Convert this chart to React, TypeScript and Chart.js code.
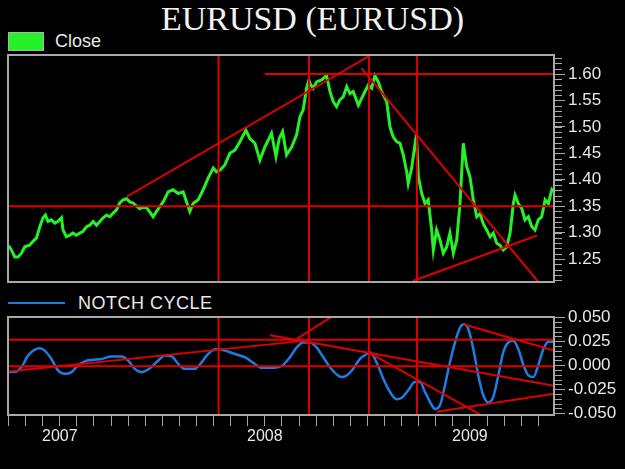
import React, { useEffect, useRef } from 'react';
import { Chart, registerables } from 'chart.js';

Chart.register(...registerables);

// ---------- data (x = months since Jan 2007) ----------
const closeMonths = [
  -2.99, -2.83, -2.63, -2.44, -2.24, -2.05, -1.76, -1.58, -1.36, -1.17, -0.98, -0.84, -0.69, -0.49, -0.29, -0.12,
  0.10, 0.19, 0.39, 0.59, 0.76, 0.98, 1.17, 1.35, 1.56, 1.76, 1.95, 2.15, 2.34, 2.54, 2.73, 2.93,
  3.12, 3.32, 3.51, 3.71, 3.91, 4.10, 4.29, 4.49, 4.68, 4.88, 5.08, 5.46, 5.66, 6.05, 6.34, 6.63,
  6.93, 7.22, 7.42, 7.61, 7.80, 8.10, 8.39, 8.68, 8.98, 9.17, 9.37, 9.66, 9.95, 10.25, 10.54, 10.89,
  11.12, 11.42, 11.71, 12.00, 12.20, 12.39, 12.65, 12.84, 13.04, 13.27, 13.57, 13.86, 14.05, 14.24, 14.44, 14.58,
  14.64, 14.83, 15.03, 15.32, 15.61, 15.81, 16.00, 16.20, 16.39, 16.59, 16.79, 16.98, 17.17, 17.47, 17.66, 17.86,
  18.05, 18.25, 18.44, 18.64, 18.83, 19.13, 19.32, 19.51, 19.71, 19.91, 20.10, 20.30, 20.39, 20.59, 20.78, 20.87,
  20.98, 21.18, 21.37, 21.56, 21.76, 21.86, 22.05, 22.25, 22.44, 22.64, 22.83, 23.03, 23.23, 23.42, 23.61, 23.81,
  24.00, 24.20, 24.40, 24.59, 24.78, 24.98, 25.18, 25.37, 25.57, 25.76, 25.95, 26.15, 26.35, 26.54, 26.64, 26.83,
  27.03, 27.22, 27.42, 27.62, 27.81, 28.00, 28.20, 28.40, 28.59, 28.79, 28.88,
];
const closeValues = [
  1.275, 1.267, 1.254, 1.254, 1.261, 1.273, 1.276, 1.283, 1.290, 1.311, 1.328, 1.333, 1.321, 1.324, 1.318, 1.321,
  1.328, 1.305, 1.292, 1.295, 1.299, 1.295, 1.299, 1.302, 1.311, 1.314, 1.321, 1.314, 1.321, 1.328, 1.333, 1.330,
  1.337, 1.343, 1.356, 1.362, 1.364, 1.358, 1.356, 1.350, 1.345, 1.348, 1.347, 1.330, 1.340, 1.358, 1.377, 1.381,
  1.374, 1.377, 1.358, 1.340, 1.355, 1.362, 1.381, 1.403, 1.422, 1.415, 1.418, 1.428, 1.450, 1.456, 1.472, 1.494,
  1.478, 1.469, 1.437, 1.462, 1.475, 1.488, 1.444, 1.478, 1.491, 1.447, 1.462, 1.485, 1.519, 1.532, 1.573, 1.589,
  1.582, 1.573, 1.585, 1.589, 1.597, 1.567, 1.548, 1.538, 1.551, 1.557, 1.576, 1.563, 1.567, 1.541, 1.554, 1.567,
  1.579, 1.573, 1.597, 1.585, 1.567, 1.548, 1.500, 1.481, 1.472, 1.469, 1.447, 1.415, 1.393, 1.422, 1.466, 1.485,
  1.406, 1.374, 1.355, 1.362, 1.305, 1.267, 1.305, 1.286, 1.261, 1.273, 1.299, 1.261, 1.286, 1.355, 1.469, 1.425,
  1.406, 1.362, 1.330, 1.336, 1.317, 1.305, 1.292, 1.299, 1.280, 1.276, 1.267, 1.273, 1.299, 1.355, 1.371, 1.355,
  1.346, 1.324, 1.330, 1.311, 1.305, 1.324, 1.330, 1.362, 1.355, 1.381, 1.377,
];

const notchMonths = [
  -3.03, -2.63, -2.24, -1.86, -1.46, -1.17, -0.88, -0.49, -0.10, 0.29, 0.69, 1.07, 1.46, 1.86, 2.44, 3.03,
  3.61, 4.00, 4.39, 4.78, 5.17, 5.76, 6.15, 6.54, 6.93, 7.32, 7.90, 8.30, 8.68, 9.17, 9.66, 10.25,
  10.83, 11.42, 11.81, 12.59, 13.07, 13.47, 13.86, 14.24, 14.64, 15.03, 15.42, 15.81, 16.20, 16.49, 16.79, 17.17,
  17.56, 17.96, 18.15, 18.54, 18.93, 19.32, 19.71, 20.01, 20.39, 20.78, 21.08, 21.37, 21.66, 21.96, 22.25, 22.54,
  22.83, 23.13, 23.42, 23.65, 23.91, 24.20, 24.49, 24.78, 25.08, 25.37, 25.66, 25.95, 26.25, 26.54, 26.83, 27.13,
  27.42, 27.71, 28.00, 28.30, 28.59, 28.88,
];
const notchValues = [
  -0.0072, -0.0070, -0.0020, 0.0100, 0.0162, 0.0176, 0.0152, 0.0065, -0.0055, -0.0090, -0.0072, 0.0000, 0.0040, 0.0055, 0.0065, 0.0090,
  0.0090, 0.0048, -0.0038, -0.0072, -0.0045, 0.0048, 0.0100, 0.0093, 0.0013, -0.0038, -0.0038, 0.0030, 0.0117, 0.0168, 0.0152, 0.0117,
  0.0083, 0.0013, -0.0028, -0.0028, 0.0003, 0.0083, 0.0186, 0.0238, 0.0238, 0.0186, 0.0083, -0.0021, -0.0096, -0.0124, -0.0107, -0.0038,
  0.0065, 0.0117, 0.0134, 0.0030, -0.0141, -0.0279, -0.0355, -0.0340, -0.0262, -0.0176, -0.0176, -0.0279, -0.0382, -0.0458, -0.0417, -0.0210,
  0.0030, 0.0238, 0.0393, 0.0427, 0.0375, 0.0168, -0.0107, -0.0313, -0.0390, -0.0330, -0.0107, 0.0134, 0.0238, 0.0255, 0.0168, 0.0000,
  -0.0107, -0.0124, 0.0000, 0.0168, 0.0245, 0.0245,
];

const priceTicks = [1.25, 1.30, 1.35, 1.40, 1.45, 1.50, 1.55, 1.60];
const notchTicks = [-0.05, -0.025, 0, 0.025, 0.05];
const yearLabels = ['2007', '2008', '2009'];
const yearStartMonths = [0, 12, 24];

const X_MIN = -3.03;
const X_MAX = 28.92;
const PRICE_MIN = 1.2065;
const PRICE_MAX = 1.636;
const NOTCH_MIN = -0.052;
const NOTCH_MAX = 0.0503;

// cycle markers (months) - vertical lines in both panels
const cycleMonths = [9.29, 14.58, 18.09, 20.9];
// trend / level lines: [x1, y1, x2, y2]
const priceLines = [
  [X_MIN, 1.35, X_MAX, 1.35],
  [12.0, 1.6, X_MAX, 1.6],
  [3.92, 1.368, 18.21, 1.636],
  [17.66, 1.611, 27.99, 1.207],
  [20.67, 1.2084, 27.93, 1.2945],
];
const notchLines = [
  [X_MIN, 0.0265, X_MAX, 0.0265],
  [X_MIN, -0.001, X_MAX, -0.001],
  [X_MIN, -0.0065, 14.52, 0.0259],
  [12.3, 0.0313, X_MAX, -0.0214],
  [13.64, 0.0248, 16.3, 0.055],
  [18.03, 0.0137, 24.59, -0.0514],
  [22.05, -0.0486, X_MAX, -0.0297],
  [23.61, 0.0427, X_MAX, 0.0152],
];

const RED = 'rgb(222,0,0)';
const GREEN = 'rgb(38,240,38)';
const BLUE = 'rgb(30,125,225)';
const GRAY = '#a8a8a8';
const LABEL = '#e8e8e8';
const FONT = "'Liberation Sans', Arial, sans-serif";

function segment(s: number[]) {
  return {
    type: 'line' as const,
    data: [
      { x: s[0], y: s[1] },
      { x: s[2], y: s[3] },
    ],
    borderColor: RED,
    borderWidth: 2,
    pointRadius: 0,
    tension: 0,
    fill: false,
  };
}

function framePlugin(minorStep: number) {
  return {
    id: 'frameMinor',
    afterDraw(chart: any) {
      const { ctx, chartArea: a } = chart;
      const ys = chart.scales.y;
      ctx.save();
      ctx.strokeStyle = GRAY;
      ctx.lineWidth = 1;
      const lo = Math.ceil(ys.min / minorStep - 1e-6);
      const hi = Math.floor(ys.max / minorStep + 1e-6);
      for (let i = lo; i <= hi; i++) {
        const py = Math.round(ys.getPixelForValue(i * minorStep)) + 0.5;
        ctx.beginPath();
        ctx.moveTo(a.right, py);
        ctx.lineTo(a.right + 8, py);
        ctx.stroke();
      }
      ctx.lineWidth = 2;
      ctx.strokeRect(a.left, a.top, a.right - a.left, a.bottom - a.top);
      ctx.restore();
    },
  };
}

export default function App() {
  const topRef = useRef<HTMLCanvasElement>(null);
  const botRef = useRef<HTMLCanvasElement>(null);

  useEffect(() => {
    document.body.style.margin = '0';
    document.body.style.background = '#000';
    Chart.defaults.font.family = FONT;

    const closePts = closeMonths.map((m, i) => ({ x: m, y: closeValues[i] }));
    const notchPts = notchMonths.map((m, i) => ({ x: m, y: notchValues[i] }));

    const topDatasets: any[] = [
      ...cycleMonths.map((m) => segment([m, PRICE_MIN, m, PRICE_MAX])),
      ...priceLines.map(segment),
      {
        type: 'line',
        data: closePts,
        borderColor: GREEN,
        borderWidth: 3,
        pointRadius: 0,
        tension: 0,
        fill: false,
      },
    ];

    const top = new Chart(topRef.current!, {
      type: 'line',
      data: { datasets: topDatasets },
      options: {
        animation: false,
        responsive: false,
        events: [],
        layout: { padding: { left: 8, top: 55, right: 0, bottom: 187 } },
        plugins: { legend: { display: false }, tooltip: { enabled: false }, title: { display: false } },
        scales: {
          x: { type: 'linear', display: false, min: X_MIN, max: X_MAX },
          y: {
            type: 'linear',
            position: 'right',
            min: PRICE_MIN,
            max: PRICE_MAX,
            afterFit: (s: any) => {
              s.width = 71;
            },
            afterBuildTicks: (s: any) => {
              s.ticks = priceTicks.map((v) => ({ value: v }));
            },
            grid: { drawOnChartArea: false, drawTicks: true, tickLength: 11, color: GRAY, tickColor: GRAY },
            border: { display: false },
            ticks: {
              color: LABEL,
              font: { size: 17, family: FONT },
              padding: 3,
              autoSkip: false,
              callback: (v: any) => Number(v).toFixed(2),
            },
          },
        },
      },
      plugins: [framePlugin(0.01)],
    } as any);

    const botDatasets: any[] = [
      ...cycleMonths.map((m) => segment([m, NOTCH_MIN, m, NOTCH_MAX])),
      ...notchLines.map(segment),
      {
        type: 'line',
        data: notchPts,
        borderColor: BLUE,
        borderWidth: 2.5,
        pointRadius: 0,
        tension: 0.4,
        cubicInterpolationMode: 'monotone',
        fill: false,
      },
    ];

    const bot = new Chart(botRef.current!, {
      type: 'line',
      data: { datasets: botDatasets },
      options: {
        animation: false,
        responsive: false,
        events: [],
        layout: { padding: { left: 8, top: 317, right: 0, bottom: 0 } },
        plugins: { legend: { display: false }, tooltip: { enabled: false }, title: { display: false } },
        scales: {
          x: {
            type: 'linear',
            min: X_MIN,
            max: X_MAX,
            afterFit: (s: any) => {
              s.height = 54;
            },
            afterBuildTicks: (s: any) => {
              const t: any[] = [];
              for (let m = Math.ceil(X_MIN); m <= Math.floor(X_MAX); m++) t.push({ value: m });
              s.ticks = t;
            },
            grid: { drawOnChartArea: false, drawTicks: true, tickLength: 11, color: GRAY, tickColor: GRAY },
            border: { display: false },
            ticks: {
              color: LABEL,
              font: { size: 16, family: FONT },
              padding: 1,
              autoSkip: false,
              maxRotation: 0,
              callback: (v: any) => {
                const k = yearStartMonths.indexOf(Math.round(Number(v)));
                return k >= 0 ? yearLabels[k] : '';
              },
            },
          },
          y: {
            type: 'linear',
            position: 'right',
            min: NOTCH_MIN,
            max: NOTCH_MAX,
            afterFit: (s: any) => {
              s.width = 71;
            },
            afterBuildTicks: (s: any) => {
              s.ticks = notchTicks.map((v) => ({ value: v }));
            },
            grid: { drawOnChartArea: false, drawTicks: true, tickLength: 11, color: GRAY, tickColor: GRAY },
            border: { display: false },
            ticks: {
              color: LABEL,
              font: { size: 17, family: FONT },
              padding: 3,
              autoSkip: false,
              callback: (v: any) => Number(v).toFixed(3),
            },
          },
        },
      },
      plugins: [framePlugin(0.005)],
    } as any);

    return () => {
      top.destroy();
      bot.destroy();
    };
  }, []);

  const abs: React.CSSProperties = { position: 'absolute', left: 0, top: 0 };

  return (
    <div
      style={{
        position: 'fixed',
        left: 0,
        top: 0,
        width: 625,
        height: 469,
        background: '#000',
        overflow: 'hidden',
        fontFamily: FONT,
      }}
    >
      <div
        style={{
          position: 'absolute',
          left: 0,
          top: 2,
          width: 625,
          textAlign: 'center',
          fontFamily: "'Liberation Serif', 'Times New Roman', serif",
          fontSize: 34,
          lineHeight: '34px',
          color: '#f2f2f2',
          whiteSpace: 'nowrap',
        }}
      >
        EURUSD (EURUSD)
      </div>
      <div
        style={{
          position: 'absolute',
          left: 8,
          top: 32,
          width: 34,
          height: 17,
          background: GREEN,
          border: '1px solid #b0b0b0',
        }}
      />
      <div
        style={{
          position: 'absolute',
          left: 55,
          top: 32,
          fontSize: 18,
          lineHeight: '18px',
          color: LABEL,
          whiteSpace: 'nowrap',
        }}
      >
        Close
      </div>
      <div
        style={{
          position: 'absolute',
          left: 8,
          top: 302,
          width: 57,
          height: 2,
          background: BLUE,
        }}
      />
      <div
        style={{
          position: 'absolute',
          left: 78,
          top: 294,
          fontSize: 18,
          lineHeight: '18px',
          letterSpacing: '0.5px',
          color: LABEL,
          whiteSpace: 'nowrap',
        }}
      >
        NOTCH CYCLE
      </div>
      <canvas ref={topRef} width={625} height={469} style={{ ...abs, width: 625, height: 469 }} />
      <canvas ref={botRef} width={625} height={469} style={{ ...abs, width: 625, height: 469 }} />
    </div>
  );
}
